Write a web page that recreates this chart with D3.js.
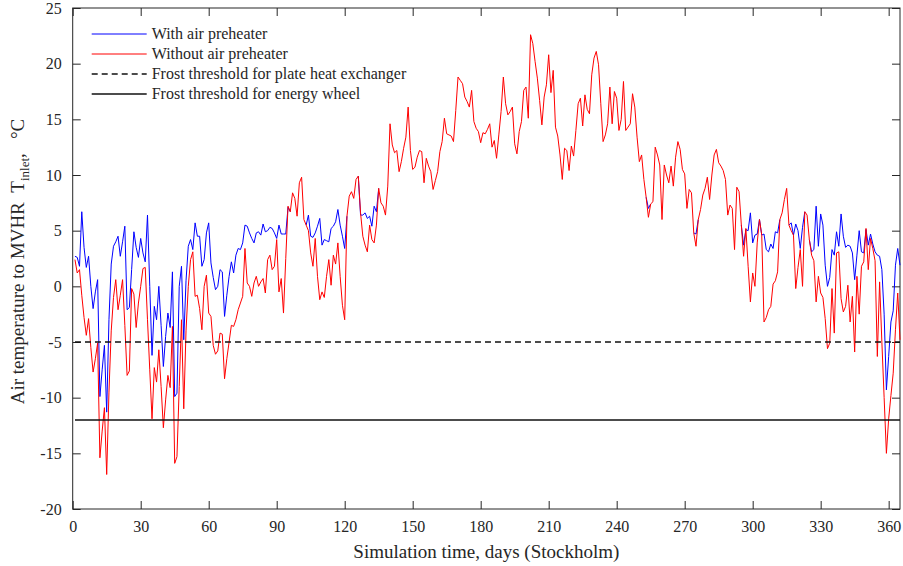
<!DOCTYPE html>
<meta charset="utf-8">
<script src="https://cdn.jsdelivr.net/npm/d3@7"></script>
<style>
  body { margin: 0; background: #fff; }
  text { font-family: "Liberation Serif", "DejaVu Serif", serif; fill: #262626; }
</style>
<div id="chart"></div>
<script>

// daily inlet air temperature, day 1..365 (Stockholm)
var withoutPreheater = [
  2.4, 1.2, 1.5, -0.8, -2.8, -4.4, -2.9, -5.5, -7.7, -6.5,
  -5.1, -15.4, -13.0, -10.9, -16.9, -9.5, -4.0, -1.0, 0.6, -2.1,
  -0.8, 0.6, -3.5, -8.0, -7.6, -0.2, -0.7, -3.7, -1.5, 0.0,
  1.6, 1.7, -3.0, -7.5, -11.9, -7.3, -8.6, -5.7, -9.0, -12.7,
  -10.2, -8.0, -9.1, -3.6, -15.9, -15.3, -9.0, -3.0, -11.0, -4.0,
  0.0, 2.4, 3.1, -0.9, -0.8, -2.0, -3.9, 0.0, 1.0, -2.4,
  -2.7, -5.3, -6.1, -5.8, -4.2, -4.3, -8.3, -6.5, -5.0, -3.5,
  -3.6, -3.0, -2.1, -1.5, -0.9, 3.4, 0.3, 0.0, -0.9, 0.3,
  0.9, 0.0, 0.4, 0.7, -0.6, 2.4, 2.8, 1.5, 1.8, 4.2,
  -0.5, 0.7, -2.4, 2.5, 7.2, 6.7, 8.4, 7.9, 6.3, 9.3,
  9.8, 6.0, 5.5, 5.0, 3.0, 1.8, 4.3, 0.9, -1.2, -0.5,
  -1.0, 0.9, 2.4, 0.1, 2.8, 2.0, 3.9, 0.9, -1.7, -3.0,
  6.3, 8.1, 8.5, 7.9, 9.6, 9.9, 6.6, 4.5, 3.7, 3.1,
  5.5, 4.2, 3.9, 5.5, 8.8, 7.5, 7.2, 6.4, 9.0, 14.6,
  12.7, 12.0, 12.2, 10.3, 11.2, 12.4, 13.4, 16.1, 12.2, 10.5,
  10.7, 11.6, 12.2, 12.1, 9.3, 11.5, 10.8, 10.3, 8.7, 9.5,
  10.3, 12.1, 13.0, 15.1, 13.7, 13.6, 13.5, 13.0, 15.8, 18.8,
  18.5, 18.2, 17.0, 16.6, 16.1, 17.6, 14.8, 14.2, 13.9, 12.9,
  13.8, 13.7, 14.1, 14.6, 12.5, 13.1, 11.5, 13.6, 15.7, 18.8,
  16.4, 15.4, 15.7, 16.1, 12.8, 11.9, 13.9, 14.8, 17.6, 17.9,
  15.1, 22.6, 21.8, 20.2, 18.7, 16.7, 14.5, 17.0, 18.1, 20.8,
  17.4, 19.4, 14.3, 13.5, 11.8, 9.6, 12.4, 12.2, 10.4, 12.6,
  11.7, 14.0, 16.4, 16.9, 14.4, 17.2, 15.9, 15.5, 19.0, 20.5,
  21.1, 19.9, 16.4, 13.0, 13.6, 14.6, 17.9, 14.6, 17.5, 16.9,
  14.0, 15.0, 18.4, 14.0, 14.3, 14.6, 17.3, 16.1, 13.4, 11.2,
  11.8, 9.6, 8.0, 6.2, 7.4, 7.6, 12.5, 11.8, 10.9, 6.0,
  10.9, 10.0, 9.3, 10.8, 9.0, 11.6, 13.0, 12.3, 10.5, 10.1,
  7.0, 8.7, 8.4, 4.8, 3.6, 6.0, 6.9, 8.2, 8.8, 9.8,
  7.8, 10.0, 11.8, 12.3, 11.1, 10.8, 10.4, 9.6, 6.4, 7.3,
  7.0, 3.3, 8.9, 8.5, 5.5, 2.7, 5.2, 1.8, -1.4, 1.2,
  0.0, 3.9, 6.0, 4.6, -3.2, -2.8, -2.1, -1.8, 0.2, 0.5,
  1.3, 6.0, 6.6, 7.8, 8.8, 5.5, 5.0, 4.6, -0.2, 1.7,
  3.3, 0.0, 6.7, 6.4, 4.2, 2.8, 2.3, -1.4, 0.9, -0.6,
  -1.0, -2.9, -5.6, -5.1, -0.2, -4.2, 3.0, 3.1, -1.1, -2.3,
  -1.8, 0.1, -3.2, -0.9, -5.9, 0.9, -2.5, 1.8, 2.2, 5.2,
  1.5, 4.3, 3.4, 2.3, -6.3, 0.4, -5.0, -10.0, -15.0, -11.9,
  -9.8, -7.8, -3.9, -0.6, -4.8
];

var withPreheater = [
  2.7, 2.6, 1.8, 6.7, 3.5, 1.7, 2.7, 0.0, -2.0, -0.5,
  0.6, -9.9, -7.5, -5.3, -11.3, -3.0, 2.0, 3.6, 4.0, 4.5,
  2.7, 4.0, 5.4, -2.1, -1.9, 1.5, 4.9, 3.5, 2.6, 4.3,
  3.0, 2.2, 6.4, 0.0, -6.2, -1.8, -3.0, 0.0, -3.5, -7.2,
  -4.5, -2.4, -3.7, 1.3, -9.9, -9.6, 0.0, 1.8, -4.8, 0.5,
  3.6, 4.2, 3.3, 5.7, 4.5, 4.5, 1.8, 2.4, 4.8, 5.7,
  2.1, 0.8, -0.3, 0.0, 1.5, 1.3, -2.7, -0.8, 0.9, 2.2,
  1.2, 2.8, 3.4, 3.3, 3.9, 5.5, 5.4, 4.8, 4.3, 3.9,
  4.8, 4.9, 4.6, 5.6, 4.9, 5.0, 5.3, 5.2, 4.8, 4.3,
  5.5, 4.7, 4.7, 4.7, 7.1, 6.7, 8.4, 7.9, 6.3, 9.3,
  9.8, 6.0, 5.5, 6.4, 4.5, 4.4, 4.8, 5.4, 6.1, 3.7,
  4.2, 4.1, 4.0, 5.2, 5.4, 5.8, 6.9, 5.5, 4.5, 3.4,
  6.3, 8.1, 8.5, 7.9, 9.6, 9.9, 6.4, 6.4, 6.6, 6.1,
  6.3, 5.4, 7.2, 6.7, 8.8, 7.5, 7.2, 6.4, 9.0, 14.6,
  12.7, 12.0, 12.2, 10.3, 11.2, 12.4, 13.4, 16.1, 12.2, 10.5,
  10.7, 11.6, 12.2, 12.1, 9.3, 11.5, 10.8, 10.3, 8.7, 9.5,
  10.3, 12.1, 13.0, 15.1, 13.7, 13.6, 13.5, 13.0, 15.8, 18.8,
  18.5, 18.2, 17.0, 16.6, 16.1, 17.6, 14.8, 14.2, 13.9, 12.9,
  13.8, 13.7, 14.1, 14.6, 12.5, 13.1, 11.5, 13.6, 15.7, 18.8,
  16.4, 15.4, 15.7, 16.1, 12.8, 11.9, 13.9, 14.8, 17.6, 17.9,
  15.1, 22.6, 21.8, 20.2, 18.7, 16.7, 14.5, 17.0, 18.1, 20.8,
  17.4, 19.4, 14.3, 13.5, 11.8, 9.6, 12.4, 12.2, 10.4, 12.6,
  11.7, 14.0, 16.4, 16.9, 14.4, 17.2, 15.9, 15.5, 19.0, 20.5,
  21.1, 19.9, 16.4, 13.0, 13.6, 14.6, 17.9, 14.6, 17.5, 16.9,
  14.0, 15.0, 18.4, 14.0, 14.3, 14.6, 17.3, 16.1, 13.4, 11.2,
  11.8, 9.6, 8.0, 7.0, 7.4, 7.6, 12.5, 11.8, 10.9, 6.0,
  10.9, 10.0, 9.3, 10.8, 9.0, 11.6, 13.0, 12.3, 10.5, 10.1,
  7.0, 8.7, 8.4, 4.8, 4.7, 6.0, 6.9, 8.2, 8.8, 9.8,
  7.8, 10.0, 11.8, 12.3, 11.1, 10.8, 10.4, 9.6, 6.4, 7.3,
  7.0, 3.3, 8.9, 8.5, 5.5, 3.7, 5.1, 5.0, 6.6, 3.9,
  4.6, 4.7, 6.0, 4.6, 4.7, 3.3, 3.1, 3.8, 3.4, 4.9,
  4.8, 6.0, 6.6, 7.8, 8.8, 5.5, 5.7, 4.6, 5.6, 5.0,
  3.4, 5.3, 6.7, 6.4, 4.2, 3.1, 3.3, 7.2, 3.6, 6.5,
  5.5, 1.9, 0.0, 0.8, 3.3, 2.8, 4.9, 3.6, 6.5, 4.5,
  3.5, 3.7, 3.6, 3.0, 0.6, 2.8, 5.0, 3.1, 3.0, 5.1,
  3.7, 4.7, 3.8, 3.1, 2.8, 2.7, 1.5, -2.5, -9.3, -6.3,
  -3.2, -2.2, 1.9, 3.4, 1.9
];

var frostPlate = -5;   // plate heat exchanger
var frostWheel = -12;  // energy wheel

var xTicks = [0, 30, 60, 90, 120, 150, 180, 210, 240, 270, 300, 330, 360];
var yTicks = [-20, -15, -10, -5, 0, 5, 10, 15, 20, 25];

var legendLabels = ["With air preheater", "Without air preheater",
                    "Frost threshold for plate heat exchanger", "Frost threshold for energy wheel"];

var W = 903, H = 566;
var margin = {top: 8, right: 3, bottom: 57, left: 72.7},
    width = W - margin.left - margin.right,
    height = H - margin.top - margin.bottom;

var svg = d3.select("#chart")
  .append("svg")
    .attr("width", W)
    .attr("height", H)
  .append("g")
    .attr("transform", "translate(" + margin.left + "," + margin.top + ")");

var x = d3.scaleLinear().domain([0, 365]).range([0, width]);
var y = d3.scaleLinear().domain([-20, 25]).range([height, 0]);

var axisColor = "#262626";
var plain = function(d) { return String(d); };  // hyphen minus like the original

function styleAxis(g) {
  g.select(".domain").remove();
  g.selectAll(".tick line").attr("stroke", axisColor);
  g.selectAll(".tick text").style("font-size", "16px").attr("fill", axisColor);
}

// axes: ticks pointing in, box all round
svg.append("g")
  .attr("transform", "translate(0," + height + ")")
  .call(d3.axisBottom(x).tickValues(xTicks).tickFormat(plain).tickSizeInner(-8).tickSizeOuter(0).tickPadding(12))
  .call(styleAxis);
svg.append("g")
  .call(d3.axisTop(x).tickValues(xTicks).tickSizeInner(-8).tickSizeOuter(0).tickFormat(""))
  .call(styleAxis);
svg.append("g")
  .call(d3.axisLeft(y).tickValues(yTicks).tickFormat(plain).tickSizeInner(-8).tickSizeOuter(0).tickPadding(11))
  .call(styleAxis);
svg.append("g")
  .attr("transform", "translate(" + width + ",0)")
  .call(d3.axisRight(y).tickValues(yTicks).tickSizeInner(-8).tickSizeOuter(0).tickFormat(""))
  .call(styleAxis);

svg.append("rect")
  .attr("width", width)
  .attr("height", height)
  .attr("fill", "none")
  .attr("stroke", axisColor)
  .attr("stroke-width", 1);

// series; the blue one is hidden under the red where both agree
var same = function(i) {
  return i < 0 || i >= withPreheater.length || withPreheater[i] === withoutPreheater[i];
};
var blueLine = d3.line()
  .defined(function(d, i) { return !(same(i - 1) && same(i) && same(i + 1)); })
  .x(function(d, i) { return x(i + 1); })
  .y(function(d) { return y(d); });
var redLine = d3.line()
  .x(function(d, i) { return x(i + 1); })
  .y(function(d) { return y(d); });

svg.append("path")
  .datum(withPreheater)
  .attr("fill", "none")
  .attr("stroke", "#0000ff")
  .attr("stroke-width", 1)
  .attr("d", blueLine);

svg.append("path")
  .datum(withoutPreheater)
  .attr("fill", "none")
  .attr("stroke", "#ff0000")
  .attr("stroke-width", 1)
  .attr("d", redLine);

// frost thresholds
svg.append("line")
  .attr("x1", x(1)).attr("x2", x(365))
  .attr("y1", y(frostPlate)).attr("y2", y(frostPlate))
  .attr("stroke", "#111").attr("stroke-width", 1.5)
  .attr("stroke-dasharray", "6,4");
svg.append("line")
  .attr("x1", x(1)).attr("x2", x(365))
  .attr("y1", y(frostWheel)).attr("y2", y(frostWheel))
  .attr("stroke", "#111").attr("stroke-width", 1.5);

// legend (no box)
var legendStyles = [
  {color: "#0000ff", width: 1, dash: null},
  {color: "#ff0000", width: 1, dash: null},
  {color: "#111", width: 1.5, dash: "6,4"},
  {color: "#111", width: 1.5, dash: null}
];
var legend = svg.append("g").attr("transform", "translate(19,26)");
legendLabels.forEach(function(lbl, i) {
  var row = legend.append("g").attr("transform", "translate(0," + (i * 20) + ")");
  row.append("line")
    .attr("x1", 0).attr("x2", 55)
    .attr("stroke", legendStyles[i].color)
    .attr("stroke-width", legendStyles[i].width)
    .attr("stroke-dasharray", legendStyles[i].dash);
  row.append("text")
    .attr("x", 60)
    .attr("dy", "0.32em")
    .style("font-size", "16px")
    .text(lbl);
});

// axis labels
svg.append("text")
  .attr("x", width / 2)
  .attr("y", height + 49)
  .attr("text-anchor", "middle")
  .style("font-size", "19px")
  .text("Simulation time, days (Stockholm)");

var yl = svg.append("text")
  .attr("transform", "translate(" + (-49) + "," + (height / 2 + 3) + ") rotate(-90)")
  .attr("text-anchor", "middle")
  .style("font-size", "19px");
yl.append("tspan").text("Air temperature to MVHR\u00a0\u00a0T");
yl.append("tspan").attr("dy", 5).style("font-size", "13px").text("inlet");
yl.append("tspan").attr("dy", -5).text(",\u00a0\u00a0\u00a0°C");

</script>
